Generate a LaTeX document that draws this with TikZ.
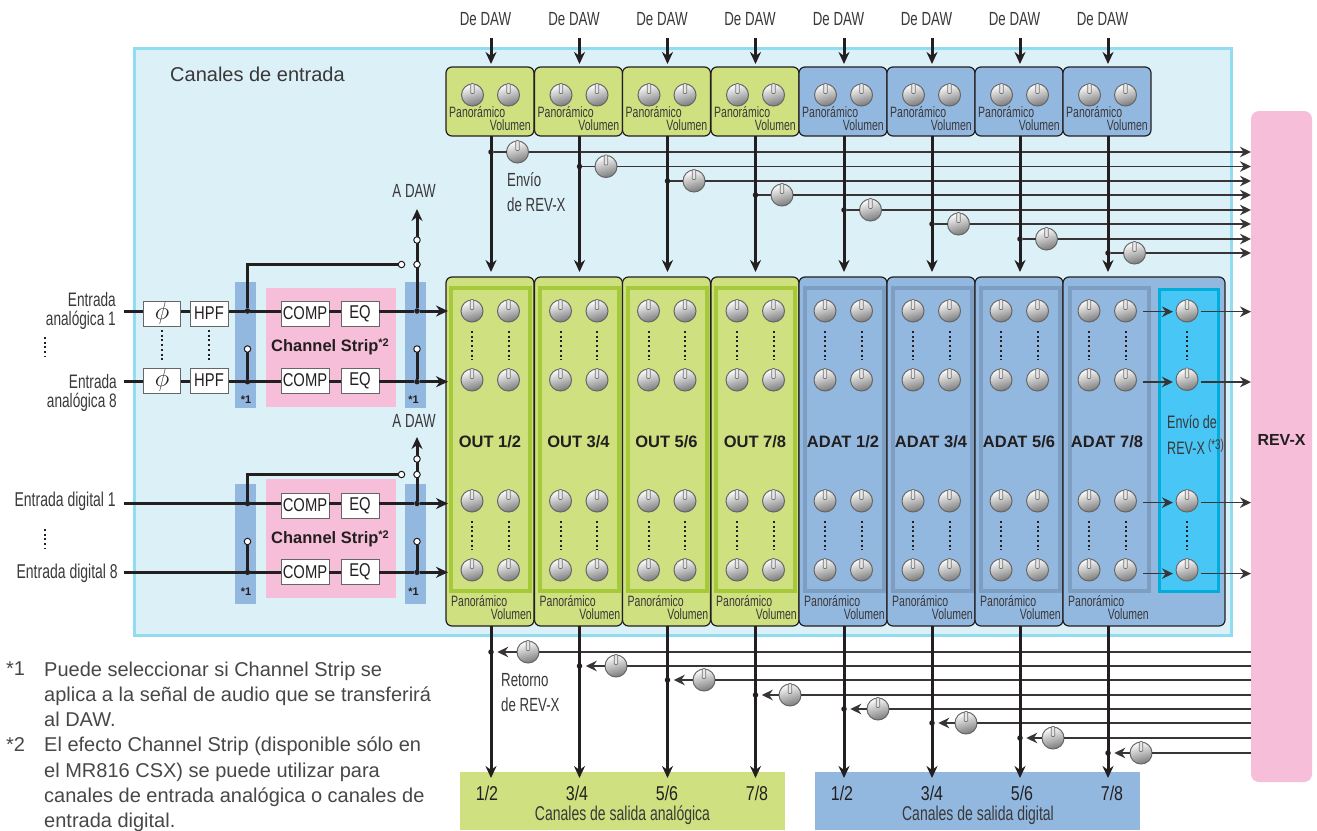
\documentclass[tikz,border=0pt]{standalone}
\usepackage{fontspec}
\setmainfont{Liberation Sans}
\newfontfamily\condfont[FakeStretch=0.7]{Liberation Sans}
\newfontfamily\medfont[FakeStretch=0.8]{Liberation Sans}
\usetikzlibrary{arrows.meta,shapes.geometric,positioning,calc}
\definecolor{bgblue}{RGB}{220,240,248}
\definecolor{bgline}{RGB}{144,220,240}
\definecolor{chgreen}{RGB}{206,224,128}
\definecolor{chblue}{RGB}{147,184,224}
\definecolor{framegreen}{RGB}{166,201,58}
\definecolor{frameblue}{RGB}{125,158,192}
\definecolor{revpink}{RGB}{246,190,216}
\definecolor{sendcyan}{RGB}{72,198,245}
\definecolor{sendline}{RGB}{0,174,220}
\definecolor{inkc}{RGB}{35,31,32}
\definecolor{textc}{RGB}{58,56,57}
\newcommand{\knob}[3]{%
  \node[knob] (#1) at (#2,#3) {};
  \node[pointer] (#1p) at (#2,#3-6.5) {};}
\begin{document}
\begin{tikzpicture}[
    x=1pt, y=-1pt,
    knob/.style={circle, draw=black!60, line width=1pt, minimum size=22pt, inner sep=0pt, outer sep=0pt, left color=white, middle color=black!14, right color=black!52, shading angle=15},
    pointer/.style={rectangle, rounded corners=1pt, draw=black!55, line width=0.7pt, fill=black!10, minimum width=3.6pt, minimum height=10pt, inner sep=0pt},
    strip/.style={draw=inkc, line width=1.2pt, rounded corners=6pt, minimum width=88pt, inner sep=0pt, outer sep=0pt},
    frame/.style={line width=4pt, minimum width=79pt, minimum height=303pt, inner sep=0pt, outer sep=0pt},
    block/.style={rectangle, draw=black!60, line width=1pt, fill=white, minimum height=25pt, inner sep=0pt, outer sep=0pt, text=inkc},
    dot/.style={circle, fill=inkc, minimum size=5.5pt, inner sep=0pt, outer sep=0pt},
    open/.style={circle, draw=inkc, line width=1pt, fill=white, minimum size=6.5pt, inner sep=0pt, outer sep=0pt},
    sig/.style={line width=3pt, draw=inkc},
    sigarr/.style={sig, -{Stealth[length=12pt,width=11pt]}},
    bus/.style={line width=1.5pt, draw=inkc!90},
    busarr/.style={bus, -{Stealth[length=11pt,width=10.5pt]}},
    dots/.style={line width=2pt, draw=inkc, dash pattern=on 2pt off 2.7pt},
    lbl/.style={inner sep=0pt, text=textc, font=\condfont\fontsize{19}{19}\selectfont},
    tiny/.style={inner sep=0pt, text=textc, font=\condfont\fontsize{15}{15}\selectfont},
    boldlbl/.style={inner sep=0pt, text=inkc, font=\bfseries\fontsize{16.5}{17}\selectfont},
    note/.style={inner sep=0pt, text=black!72, font=\fontsize{20}{25.3}\selectfont, anchor=north west, align=left},
    area/.style={inner sep=0pt, outer sep=0pt}
]
\useasboundingbox (0,0) rectangle (1317,830);

% panels
\node[area, draw=bgline, line width=3pt, fill=bgblue, minimum width=1097pt, minimum height=587pt] (bg) at (682.5,341.5) {};
\node[area, fill=revpink, rounded corners=8pt, minimum width=61pt, minimum height=671pt] (rev) at (1281.5,446.5) {};
\node[boldlbl, font=\bfseries\fontsize{16}{17}\selectfont] (revlabel) at (1281.5,440) {REV-X};
\node[inner sep=0pt, text=textc, font=\fontsize{20}{20}\selectfont, anchor=west] (title) at (170,74) {Canales de entrada};
\node[area, fill=chgreen, minimum width=325pt, minimum height=58pt] (outana) at (622.5,801) {};
\node[area, fill=chblue, minimum width=325pt, minimum height=58pt] (outdig) at (977.5,801) {};

% channels
\foreach \i/\cx/\col/\fc/\fr/\fx/\nm/\sy/\ry/\rk in {
  1/490/491/chgreen/framegreen/0.5/{OUT 1/2}/152/652/528,
  2/578.5/579.5/chgreen/framegreen/0.5/{OUT 3/4}/166.5/666/616,
  3/666.5/667.5/chgreen/framegreen/0.5/{OUT 5/6}/181/680/704,
  4/755/755.5/chgreen/framegreen/0.5/{OUT 7/8}/195/695/790,
  5/843/844/chblue/frameblue/1.5/{ADAT 1/2}/210/709/878,
  6/931/932/chblue/frameblue/1.5/{ADAT 3/4}/224/723/966,
  7/1019/1020/chblue/frameblue/1.5/{ADAT 5/6}/239/738/1053,
  8/1107/1108/chblue/frameblue/2/{ADAT 7/8}/253/753/1141}{
  % upper strip
  \node[strip, fill=\fc, minimum height=69pt] (top\i) at (\cx,101.5) {};
  \knob{tpa\i}{\cx-17.5}{95}
  \knob{tpb\i}{\cx+18.5}{95}
  \node[tiny, anchor=west] (tplab\i) at (\cx-41,112) {Panorámico};
  \node[tiny, anchor=east] (tvlab\i) at (\cx+41,125.5) {Volumen};
  % main strip
  \ifnum\i=8
    \node[strip, fill=\fc, minimum width=162pt, minimum height=349pt] (main\i) at (1144,451.5) {};
  \else
    \node[strip, fill=\fc, minimum height=349pt] (main\i) at (\cx,451.5) {};
  \fi
  \node[frame, draw=\fr] (frame\i) at (\cx+\fx,439.5) {};
  \node[boldlbl] (name\i) at (\cx,441.5) {\nm};
  \foreach \rw/\kyy in {1/311,2/380,3/501,4/570}{
    \knob{ka\i r\rw}{\cx-18}{\kyy}
    \knob{kb\i r\rw}{\cx+18.5}{\kyy}
  }
  \foreach \ab in {a,b}{
    \draw[dots, shorten >=9pt, shorten <=9pt] (k\ab\i r1) -- (k\ab\i r2);
    \draw[dots, shorten >=9pt, shorten <=9pt] (k\ab\i r3) -- (k\ab\i r4);
  }
  \node[tiny, anchor=west] (mplab\i) at (\cx-39,601) {Panorámico};
  \node[tiny, anchor=east] (mvlab\i) at (\cx+42,614) {Volumen};
  % De DAW in, send to REV-X
  \node[lbl] (daw\i) at (\col-5.5,19.5) {De DAW};
  \node[dot] (sd\i) at (\col,\sy) {};
  \coordinate (dawin\i) at (\col,38);
  \draw[sigarr, shorten >=3pt] (dawin\i) -- (dawin\i |- top\i.north);
  \draw[sigarr, shorten >=5pt] (top\i.south -| sd\i) -- (sd\i |- main\i.north);
  \knob{sk\i}{\col+26.5}{\sy}
  \draw[bus] (sd\i) -- (sk\i);
  \draw[busarr] (sk\i) -- (rev.west |- sk\i);
  % return from REV-X, output
  \node[dot] (rd\i) at (\col,\ry) {};
  \knob{rk\i}{\rk}{\ry}
  \draw[sigarr, shorten >=-6pt] (main\i.south -| rd\i) -- (rd\i |- outana.north);
  \draw[bus] (rev.west |- rk\i) -- (rk\i);
  \draw[busarr, shorten >=3.5pt] (rk\i) -- (rd\i);
}

% send section of last strip
\node[area, draw=sendline, fill=sendcyan, line width=3pt, minimum width=59pt, minimum height=302pt] (envio) at (1188.5,440) {};
\node[lbl, anchor=west, font=\condfont\fontsize{18}{26}\selectfont, align=left] (enviolab) at (1167,435) {Envío de\\REV-X\,\raisebox{5pt}{\fontsize{14}{14}\selectfont(*3)}};
\foreach \rw/\ky/\ay in {1/311/311.7,2/379.5/382,3/501/502.6,4/570/573.6}{
  \coordinate (ay\rw) at (0,\ay);
  \knob{ks\rw}{1187}{\ky}
  \coordinate (from\rw) at (1143,\ay);
  \draw[busarr, shorten >=3pt] (from\rw) -- (from\rw -| ks\rw.west);
  \draw[busarr, shorten <=3pt] (ks\rw.east |- ay\rw) -- (rev.west |- ay\rw);
}
\draw[dots, shorten >=9pt, shorten <=9pt] (ks1) -- (ks2);
\draw[dots, shorten >=9pt, shorten <=9pt] (ks3) -- (ks4);

% text on the lines
\node[lbl, font=\condfont\fontsize{19}{25}\selectfont, align=left, anchor=west] (enviotxt) at (507,192) {Envío\\de REV-X};
\node[lbl, font=\condfont\fontsize{19}{25}\selectfont, align=left, anchor=west] (retorno) at (501,692.5) {Retorno\\de REV-X};

% outputs
\foreach \x/\t in {487/{1/2},577/{3/4},667/{5/6},757/{7/8},842/{1/2},932/{3/4},1022/{5/6},1112/{7/8}}{
  \node[inner sep=0pt, text=inkc, font=\medfont\fontsize{20}{20}\selectfont] (out\x) at (\x,793.5) {\t};
}
\node[lbl, font=\condfont\fontsize{20}{20}\selectfont] (outanalab) at (622.5,815.5) {Canales de salida analógica};
\node[lbl, font=\condfont\fontsize{20}{20}\selectfont] (outdiglab) at (978,815.5) {Canales de salida digital};

% channel strips
\foreach \g/\ya/\yb/\ba/\bb/\tap/\py/\sw/\sh/\lo/\lab/\st/\up/\tip/\daw in {
  A/311/381.7/313.5/380.5/264.5/347.5/345/126/349/347/400/240/209/191,
  D/503.5/572.3/505.5/572/474.5/538.5/544/120/541.5/539/592/459/437/421}{
  \node[area, fill=chblue, minimum width=21pt, minimum height=\sh pt] (swl\g) at (245.5,\sw) {};
  \node[area, fill=chblue, minimum width=21pt, minimum height=\sh pt] (swr\g) at (415.5,\sw) {};
  \node[area, fill=revpink, minimum width=130pt, minimum height=119pt] (pink\g) at (331,\py) {};
  \node[boldlbl, text=inkc] (stripname\g) at (330,\lab) {Channel Strip\raisebox{5pt}{\fontsize{11}{11}\selectfont *2}};
  \node[inner sep=0pt, text=inkc, font=\bfseries\fontsize{11}{11}\selectfont] (swnotl\g) at (246,\st) {*1};
  \node[inner sep=0pt, text=inkc, font=\bfseries\fontsize{11}{11}\selectfont] (swnotr\g) at (413.5,\st) {*1};
  \coordinate (in\g a) at (124,\ya);
  \coordinate (in\g b) at (124,\yb);
  \node[block, minimum width=48pt, font=\medfont\fontsize{18.5}{18}\selectfont] (comp\g a) at (305,\ba) {COMP};
  \node[block, minimum width=38pt, font=\medfont\fontsize{18.5}{18}\selectfont] (eq\g a) at (360,\ba) {EQ};
  \node[block, minimum width=48pt, font=\medfont\fontsize{18.5}{18}\selectfont] (comp\g b) at (305,\bb) {COMP};
  \node[block, minimum width=38pt, font=\medfont\fontsize{18.5}{18}\selectfont] (eq\g b) at (360,\bb) {EQ};
  \node[dot] (jl\g a) at (247.5,\ya) {};
  \node[dot] (jl\g b) at (247.5,\yb) {};
  \node[dot] (jr\g a) at (417,\ya) {};
  \node[dot] (jr\g b) at (417,\yb) {};
  \foreach \r in {a,b}{
    \draw[sig] (in\g\r) -- (jl\g\r);
    \draw[sig] (jl\g\r) -- (comp\g\r.west |- jl\g\r);
    \draw[sig] (comp\g\r.east |- jl\g\r) -- (eq\g\r.west |- jl\g\r);
    \draw[sig] (eq\g\r.east |- jl\g\r) -- (jr\g\r);
    \draw[sigarr, shorten >=-2pt] (jr\g\r) -- (jr\g\r -| main1.west);
  }
  % switches
  \coordinate (tap\g) at (401.5,\tap);
  \coordinate (tip\g) at (417,\tip);
  \node[lbl] (adaw\g) at (414,\daw) {A DAW};
  \draw[sig] (jl\g a) |- (tap\g);
  \draw[sigarr] (jr\g a) -- (tip\g);
  \node[open] (opl\g) at (401.5,\tap) {};
  \node[open] (opr\g) at (417,\tap) {};
  \node[open] (opu\g) at (417,\up) {};
  \node[open] (oll\g) at (247.5,\lo) {};
  \node[open] (olr\g) at (417,\lo) {};
  \draw[sig] (jl\g b) -- (oll\g);
  \draw[sig] (jr\g b) -- (olr\g);
}

% inputs
\foreach \r/\by in {a/313.5,b/380.5}{
  \node[block, minimum width=37pt, font=\fontsize{23}{23}\selectfont] (ph\r) at (162,\by) {$\phi$};
  \node[block, minimum width=38pt, font=\medfont\fontsize{18.5}{18}\selectfont] (hpf\r) at (209,\by) {HPF};
}
\draw[dots, shorten >=8pt, shorten <=4pt] (pha) -- (phb);
\draw[dots, shorten >=8pt, shorten <=4pt] (hpfa) -- (hpfb);
\node[lbl, font=\condfont\fontsize{19.5}{19}\selectfont, align=right, anchor=east] (lanaa) at (116,311) {Entrada\\analógica 1};
\node[lbl, font=\condfont\fontsize{19.5}{19}\selectfont, align=right, anchor=east] (lanab) at (117,393) {Entrada\\analógica 8};
\node[lbl, font=\condfont\fontsize{20}{19}\selectfont, anchor=east] (ldiga) at (116,501) {Entrada digital 1};
\node[lbl, font=\condfont\fontsize{20}{19}\selectfont, anchor=east] (ldigb) at (118,573) {Entrada digital 8};
\coordinate (mana) at (45,337);
\coordinate (manb) at (45,356);
\coordinate (mdga) at (45,529);
\coordinate (mdgb) at (45,548);
\draw[dots] (mana) -- (manb);
\draw[dots] (mdga) -- (mdgb);

% notes
\node[note] (noteA) at (6,661.5) {*1};
\node[note] (noteAtxt) at (44,661.5) {Puede seleccionar si Channel Strip se\\aplica a la señal de audio que se transferirá\\al DAW.};
\node[note] (noteB) at (6,737) {*2};
\node[note] (noteBtxt) at (44,737) {El efecto Channel Strip (disponible sólo en\\el MR816 CSX) se puede utilizar para\\canales de entrada analógica o canales de\\entrada digital.};
\end{tikzpicture}
\end{document}
